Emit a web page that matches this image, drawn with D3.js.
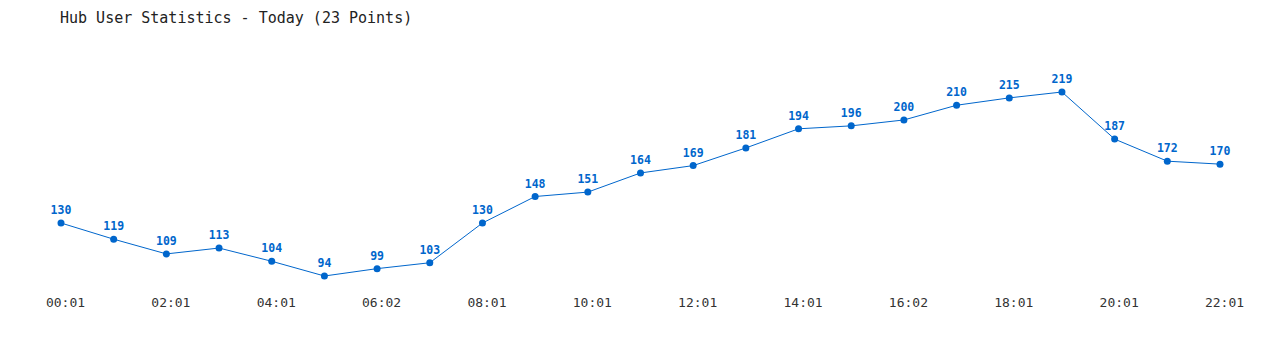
<!DOCTYPE html>
<html>
<head>
<meta charset="utf-8">
<script src="https://cdn.jsdelivr.net/npm/d3@7"></script>
<style>
  body { margin: 0; background: #fff; }
  text { font-family: "DejaVu Sans Mono", monospace; }
</style>
</head>
<body>
<div id="chart"></div>
<script>
// Data
const times = ['00:01', '01:01', '02:01', '03:01', '04:01', '05:01', '06:02', '07:01',
    '08:01', '09:01', '10:01', '11:01', '12:01', '13:01', '14:01', '15:01',
    '16:02', '17:01', '18:01', '19:01', '20:01', '21:01', '22:01'];
const users = [130, 119, 109, 113, 104, 94, 99, 103, 130, 148, 151, 164,
    169, 181, 194, 196, 200, 210, 215, 219, 187, 172, 170];
const tickLabels = ['00:01', '02:01', '04:01', '06:02', '08:01', '10:01',
    '12:01', '14:01', '16:02', '18:01', '20:01', '22:01'];

const width = 1280, height = 350;
const color = '#0066cc';

const svg = d3.select('#chart')
    .append('svg')
    .attr('width', width)
    .attr('height', height);

// Scales
const xScale = d3.scalePoint()
    .domain(times)
    .range([61, 1220]);

const yScale = d3.scaleLinear()
    .domain([d3.min(users), d3.max(users)])
    .range([276, 92]);

// Title
svg.append('text')
    .attr('x', 60)
    .attr('y', 23)
    .attr('font-size', '15px')
    .attr('fill', '#222')
    .text('Hub User Statistics - Today (23 Points)');

// Line
const line = d3.line()
    .x((d, i) => xScale(times[i]))
    .y(d => yScale(d));

svg.append('path')
    .datum(users)
    .attr('fill', 'none')
    .attr('stroke', color)
    .attr('stroke-width', 1)
    .attr('d', line);

// Dots
svg.selectAll('.dot')
    .data(users)
    .enter().append('circle')
    .attr('class', 'dot')
    .attr('cx', (d, i) => xScale(times[i]))
    .attr('cy', d => yScale(d))
    .attr('r', 3.5)
    .attr('fill', color);

// Value labels
svg.selectAll('.val')
    .data(users)
    .enter().append('text')
    .attr('class', 'val')
    .attr('x', (d, i) => xScale(times[i]))
    .attr('y', d => yScale(d) - 9)
    .attr('text-anchor', 'middle')
    .attr('font-size', '11.5px')
    .attr('font-weight', 'bold')
    .attr('fill', color)
    .text(d => d);

// X axis labels (every other point)
const xAxis = d3.axisBottom(xScale)
    .tickValues(tickLabels)
    .tickSize(0)
    .tickPadding(0);

const gx = svg.append('g')
    .attr('transform', 'translate(4,298)')
    .call(xAxis);
gx.select('.domain').remove();
gx.selectAll('text')
    .attr('font-family', '"DejaVu Sans Mono", monospace')
    .attr('font-size', '13px')
    .attr('fill', '#333');
</script>
</body>
</html>
